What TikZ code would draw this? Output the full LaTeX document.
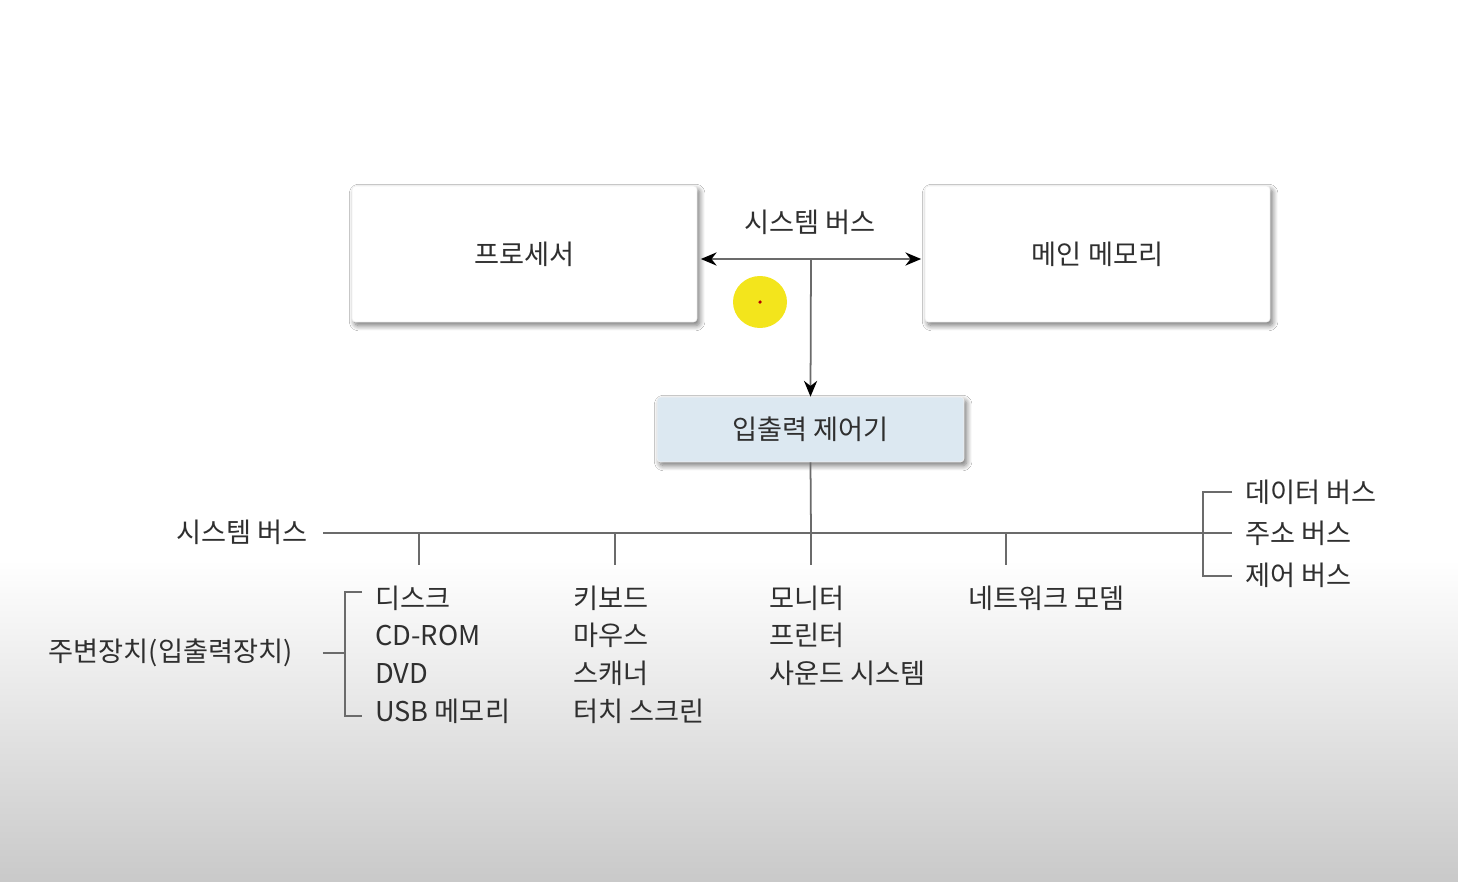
\documentclass[tikz,border=0pt]{standalone}
\usepackage{fontspec}
\setmainfont{Noto Sans CJK KR}
\usetikzlibrary{arrows.meta}
\usetikzlibrary{positioning}
\usetikzlibrary{shadows.blur}

\definecolor{inkgray}{HTML}{2F2F2F}
\definecolor{linegray}{HTML}{6B6B6B}
\definecolor{ctrlblue}{HTML}{DCE8F1}
\definecolor{bggray}{HTML}{C9C9C9}
\definecolor{cursoryellow}{HTML}{F3E51C}

\tikzset{
    lbl/.style={text=inkgray, font=\fontsize{15.5}{18}\selectfont, inner sep=0pt},
    unitbox/.style={lbl, draw=gray!12, fill=white, rounded corners=2pt,
        minimum width=6.9cm, minimum height=2.72cm,
        blur shadow={shadow xshift=1.5pt, shadow yshift=-2pt, shadow blur radius=3pt, shadow blur steps=10, shadow opacity=55}},
    ctrlbox/.style={unitbox, fill=ctrlblue, minimum width=6.14cm, minimum height=1.3cm},
    conn/.style={draw=linegray, line width=1pt},
    tip/.style={-{Stealth[length=9pt, width=7.5pt, black]}},
    tips/.style={{Stealth[length=9pt, width=7.5pt, black]}-{Stealth[length=9pt, width=7.5pt, black]}}
}

\begin{document}
\begin{tikzpicture}[x=0.02cm, y=-0.02cm]
            \useasboundingbox (0,0) rectangle (1458,882);
            \fill[white] (0,0) rectangle (1458,560);
            \shade[top color=white, bottom color=bggray] (0,560) rectangle (1458,882);

            \node[unitbox] (cpu) at (524.5,254) {프로세서};
            \node[unitbox] (mem) at (1097.5,254) {메인 메모리};
            \node[ctrlbox] (ioc) at (810.5,429.5) {입출력 제어기};

            \node[lbl] (sbustop) at (810,222) {시스템 버스};
            \coordinate (tee) at (811,259);
            \draw[conn, tips] ([xshift=2pt]cpu.east |- tee) -- ([xshift=-2pt]mem.west |- tee);
            \draw[conn, tip] (tee) -- (ioc.north);

            % cursor highlight
            \fill[cursoryellow] (760,302) ellipse [x radius=0.54cm, y radius=0.52cm];
            \fill[red!70!black] (760,302) circle (1pt);

            % system bus
            \node[lbl, anchor=east] (sbus) at (308,532) {시스템 버스};
            \node[lbl, anchor=west] (data) at (1245,492) {데이터 버스};
            \node[lbl, anchor=west] (addr) at (1245,533) {주소 버스};
            \node[lbl, anchor=west] (ctrl) at (1245,575) {제어 버스};

            \coordinate (busL) at ([xshift=0.3cm]sbus.east |- addr.west);
            \coordinate (busR) at ([xshift=-0.26cm]addr.west);
            \draw[conn] (busL) -- (busR);
            \draw[conn] ([xshift=-0.26cm]data.west) -| (1203,576) -- ([xshift=-0.26cm]ctrl.west |- 0,576);

            \foreach \x [count=\i] in {419,615,811,1006} {
                \coordinate (tap\i) at (\x,565);
                \draw[conn] (tap\i |- busL) -- (tap\i);
            }
            \draw[conn] (ioc.south) -- (tap3 |- busL);

            % peripherals
            \foreach \item [count=\i] in {디스크, CD-ROM, DVD, USB 메모리}
                \node[lbl, anchor=west] (stor\i) at (375,598+37.7*\i-37.7) {\item};
            \foreach \item [count=\i] in {키보드, 마우스, 스캐너, 터치 스크린}
                \node[lbl, anchor=west] (inp\i) at (573,598+37.7*\i-37.7) {\item};
            \foreach \item [count=\i] in {모니터, 프린터, 사운드 시스템}
                \node[lbl, anchor=west] (outp\i) at (769,598+37.7*\i-37.7) {\item};
            \node[lbl, anchor=west] (net) at (968,598) {네트워크 모뎀};

            \node[lbl, anchor=east] (periph) at (293,653) {주변장치(입출력장치)};
            \coordinate (brkTop) at (345,592);
            \coordinate (brkBot) at (345,716);
            \draw[conn] ([xshift=-0.26cm]stor1.west |- brkTop) -- (brkTop) -- (brkBot) -- ([xshift=-0.26cm]stor4.west |- brkBot);
            \draw[conn] ([xshift=0.6cm]periph.east) -- (brkTop |- periph.east);
        \end{tikzpicture}
\end{document}
